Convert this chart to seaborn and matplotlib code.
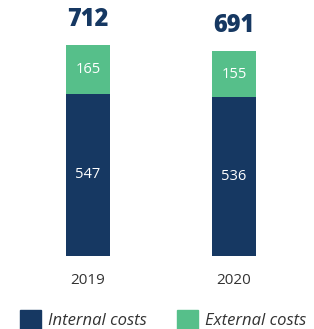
import matplotlib
matplotlib.use("Agg")
import matplotlib.pyplot as plt
from matplotlib.patches import Patch
import seaborn as sns
import pandas as pd

# chart data
years = ["2019", "2020"]
internal_costs = [547, 536]
external_costs = [165, 155]

navy = "#163862"
green = "#56BF8A"

sns.set_theme(style="white")
plt.rcParams['font.family'] = ['Open Sans', 'DejaVu Sans']

df = pd.DataFrame({"year": years, "internal": internal_costs, "external": external_costs})
df["total"] = df["internal"] + df["external"]

fig = plt.figure(figsize=(3.14, 3.29), dpi=100)
ax = fig.add_axes([0, 0.2219, 1, 0.7781])

# stacked bars: total (green) behind, internal (navy) on top
sns.barplot(data=df, x="year", y="total", color=green, width=0.3, saturation=1,
            linewidth=0, ax=ax)
sns.barplot(data=df, x="year", y="internal", color=navy, width=0.3, saturation=1,
            linewidth=0, ax=ax)

for i, row in df.iterrows():
    ax.text(i, row["internal"] / 2, str(row["internal"]), ha="center", va="center",
            color="white", fontsize=10.5)
    ax.text(i, row["internal"] + row["external"] / 2, str(row["external"]), ha="center",
            va="center", color="white", fontsize=10.5)
    ax.text(i, row["total"] + 45, str(row["total"]), ha="center", va="bottom",
            color=navy, fontsize=17, fontweight="heavy")

ax.set_xlim(-0.603, 1.548)
ax.set_ylim(0, 864)
ax.set_xlabel("")
ax.set_ylabel("")
ax.set_yticks([])
ax.tick_params(axis="x", length=0, pad=12, labelsize=11, labelcolor="#333333")
sns.despine(ax=ax, left=True, bottom=True, top=True, right=True)

handles = [Patch(color=navy, label="Internal costs"), Patch(color=green, label="External costs")]
fig.legend(handles=handles, loc="lower center", bbox_to_anchor=(0.52, -0.045), ncol=2,
           frameon=False, handlelength=1.25, handleheight=1.4, columnspacing=1.8,
           handletextpad=0.45, prop={"style": "italic", "size": 12}, labelcolor="#333333")

fig.savefig("out.png", dpi=100)
